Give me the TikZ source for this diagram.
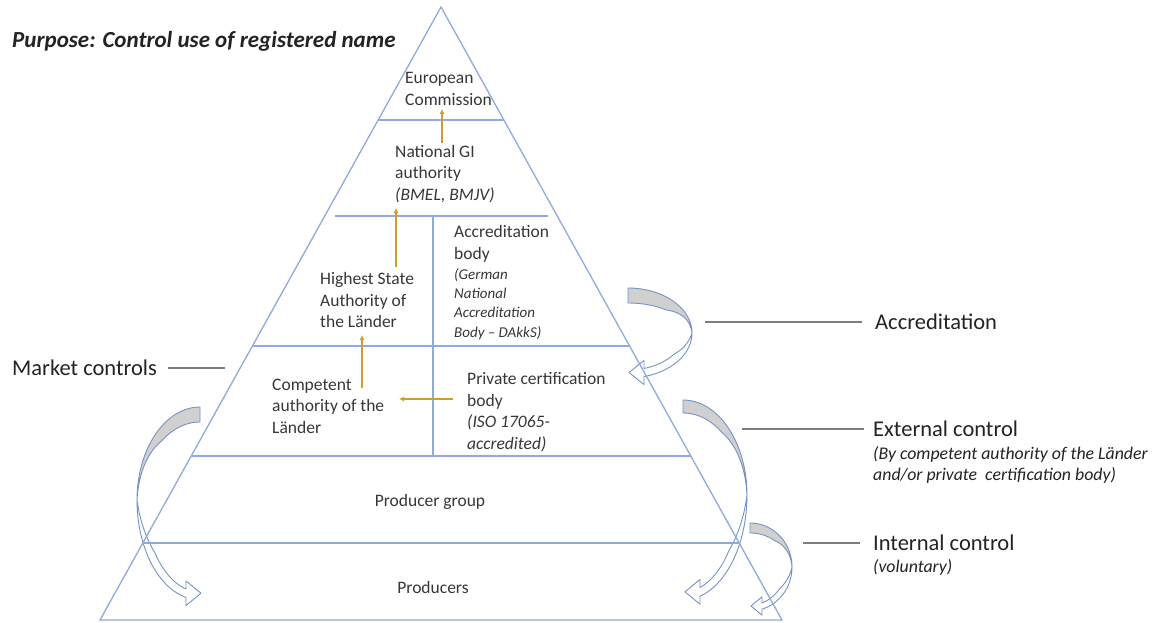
\documentclass[tikz,border=0pt]{standalone}
\usepackage{fontspec}
\setmainfont{Carlito}
\usetikzlibrary{arrows.meta,calc}
\definecolor{pyr}{RGB}{143,170,220}
\definecolor{arrline}{RGB}{118,146,200}
\definecolor{backgray}{RGB}{208,208,208}
\definecolor{gold}{RGB}{204,160,40}
\definecolor{txtc}{RGB}{55,55,55}
\definecolor{lblc}{RGB}{35,35,35}
\definecolor{leadc}{RGB}{125,125,125}
% curved arrow: #1 cx, #2 cy, #3 a, #4 b upper, #5 b lower, #6 side (+1/-1), #7 head base offset, #8 band width, #9 back thickness
\newcommand{\curvarrow}[9]{%
  \pgfmathsetmacro{\cvx}{#1}\pgfmathsetmacro{\cvy}{#2}%
  \pgfmathsetmacro{\cva}{#3}\pgfmathsetmacro{\cvbu}{#4}\pgfmathsetmacro{\cvbd}{#5}%
  \pgfmathsetmacro{\cvs}{#6}\pgfmathsetmacro{\cvd}{#7}\pgfmathsetmacro{\cvw}{#8}\pgfmathsetmacro{\cvg}{#9}%
  \filldraw[arrowback] plot[domain=90:0,samples=40] ({\cvx+(\cvs)*\cva*cos(\x)},{\cvy-\cvbu*sin(\x)})
    -- plot[domain=0:90,samples=40] ({\cvx+(\cvs)*(\cva-0.3*\cvg*min(1,\x/50))*cos(\x)},{\cvy-(\cvbu-\cvg*min(1,\x/50))*sin(\x)}) -- cycle;
  \pgfmathsetmacro{\cvto}{-acos(\cvd/\cva)}%
  \pgfmathsetmacro{\cvti}{-acos(\cvd/(\cva-\cvw))}%
  \pgfmathsetmacro{\cvhx}{\cvx+(\cvs)*\cvd}%
  \pgfmathsetmacro{\cvoy}{\cvy-\cvbd*sin(\cvto)}%
  \pgfmathsetmacro{\cviy}{\cvy-(\cvbd-\cvw)*sin(\cvti)}%
  \pgfmathsetmacro{\cvmy}{(\cvoy+\cviy)/2}%
  \pgfmathsetmacro{\cvtx}{\cvhx-(\cvs)*(2*\cvw-1)}%
  \pgfmathsetmacro{\cvlo}{\cvoy+\cvw}%
  \pgfmathsetmacro{\cvhi}{\cviy-\cvw}%
  \filldraw[arrowfront] plot[domain=0:\cvto,samples=40] ({\cvx+(\cvs)*\cva*cos(\x)},{\cvy-\cvbd*sin(\x)})
    -- (\cvhx,\cvlo) -- (\cvtx,\cvmy) -- (\cvhx,\cvhi) -- (\cvhx,\cviy)
    -- plot[domain=\cvti:0,samples=40] ({\cvx+(\cvs)*(\cva-\cvw*min(1,abs(\x)/35))*cos(\x)},{\cvy-(\cvbd-\cvw*min(1,abs(\x)/35))*sin(\x)}) -- cycle;
}
\begin{document}
\begin{tikzpicture}[x=1pt,y=-1pt,
  pyrline/.style={draw=pyr,line width=1.3pt},
  arrowback/.style={fill=backgray,draw=arrline,line width=0.9pt,line join=round},
  arrowfront/.style={fill=white,draw=arrline,line width=0.9pt,line join=round},
  oarrow/.style={draw=gold,line width=1.3pt,-{Latex[length=5pt,width=5pt]}},
  leader/.style={draw=leadc,line width=1.6pt},
  ptext/.style={font=\fontsize{17.5}{21.5}\selectfont,text=txtc,align=left,inner sep=0pt,anchor=west},
  pstext/.style={font=\fontsize{15}{19.3}\selectfont\itshape,text=txtc,align=left,inner sep=0pt,anchor=west},
  lbl/.style={font=\fontsize{22.5}{27}\selectfont,text=lblc,inner sep=0pt,anchor=west},
  lblsub/.style={font=\fontsize{17.8}{21.5}\selectfont\itshape,text=lblc,align=left,inner sep=0pt,anchor=west},
]
\useasboundingbox[fill=white] (0,0) rectangle (1165,623);

% curved arrows
\curvarrow{628}{333}{64}{45}{45}{1}{16}{8}{15}
\curvarrow{683}{495}{64}{95}{105}{1}{17}{8}{13}
\curvarrow{750}{567}{42}{44}{44}{1}{12}{6}{10}
\curvarrow{200}{500}{63}{93}{100}{-1}{14}{8}{15}

% pyramid
\coordinate (apex) at (441,7);
\coordinate (bl) at (100,620);
\coordinate (br) at (782,620);
\draw[pyrline,line join=miter] (bl) -- (apex) -- (br) -- cycle;
\draw[pyrline] ($(apex)!0.18434!(bl)$) -- ($(apex)!0.18434!(br)$);
\coordinate (l2a) at (335,216);
\coordinate (l2b) at (548,216);
\draw[pyrline] (l2a) -- (l2b);
\draw[pyrline] ($(apex)!0.55302!(bl)$) -- ($(apex)!0.55302!(br)$);
\draw[pyrline] ($(apex)!0.73246!(bl)$) -- ($(apex)!0.73246!(br)$);
\draw[pyrline] ($(apex)!0.87439!(bl)$) -- ($(apex)!0.87439!(br)$);
\coordinate (vt) at (433,216);
\coordinate (vb) at (433,456);
\draw[pyrline] (vt) -- (vb);

% title
\node[font=\fontsize{23}{27}\selectfont\bfseries\itshape,text=lblc,inner sep=0pt,anchor=west] (title) at (12,41) {Purpose: Control use of registered name};

% pyramid texts
\node[ptext] (ec) at (405,89) {European\\Commission};
\node[ptext] (ngi) at (395,174) {National GI\\authority\\\textit{(BMEL, BMJV)}};
\node[ptext] (hsa) at (320,300) {Highest State\\Authority of\\the Länder};
\node[ptext] (ab) at (454,244) {Accreditation\\body};
\node[pstext] (abi) at (454,304) {(German\\National\\Accreditation\\Body – DAkkS)};
\node[ptext] (comp) at (272,406) {Competent\\authority of the\\Länder};
\node[ptext] (pcb) at (467,412) {Private certification\\body\\\textit{(ISO 17065-}\\\textit{accredited)}};
\node[ptext,anchor=center] (pg) at (430,502) {Producer group};
\node[ptext,anchor=center] (prod) at (433,587) {Producers};

% orange arrows
\coordinate (o1a) at (442,143); \coordinate (o1b) at (442,109);
\coordinate (o2a) at (396,267); \coordinate (o2b) at (396,208);
\coordinate (o3a) at (362,388); \coordinate (o3b) at (362,335);
\coordinate (o4a) at (453,399); \coordinate (o4b) at (399,399);
\draw[oarrow] (o1a) -- (o1b);
\draw[oarrow] (o2a) -- (o2b);
\draw[oarrow] (o3a) -- (o3b);
\draw[oarrow] (o4a) -- (o4b);

% side labels
\node[lbl] (mc) at (12,368) {Market controls};
\node[lbl] (acc) at (875,322) {Accreditation};
\node[lbl] (ext) at (873,429) {External control};
\node[lblsub] (exti) at (873,465) {(By competent authority of the Länder\\and/or private\ \ certification body)};
\node[lbl] (int) at (873,543) {Internal control};
\node[lblsub] (vol) at (873,567) {(voluntary)};

% leader lines
\coordinate (mcl) at (225,0);
\coordinate (accl) at (705,0);
\coordinate (extl) at (742,0);
\coordinate (intl) at (803,0);
\draw[leader] ([xshift=11pt]mc.east) -- (mcl |- mc.east);
\draw[leader] ([xshift=-13pt]acc.west) -- (accl |- acc.west);
\draw[leader] ([xshift=-9pt]ext.west) -- (extl |- ext.west);
\draw[leader] ([xshift=-13pt]int.west) -- (intl |- int.west);
\end{tikzpicture}
\end{document}
